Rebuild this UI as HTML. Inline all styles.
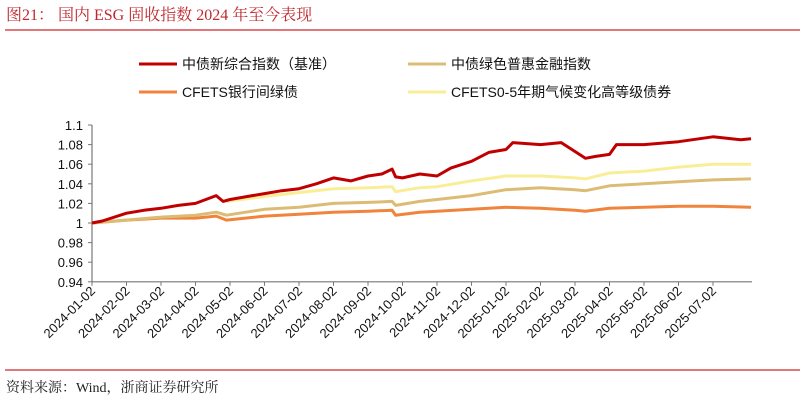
<!DOCTYPE html>
<html><head><meta charset="utf-8"><style>
body{margin:0;background:#fff;width:802px;height:402px;overflow:hidden}
svg{display:block}
</style></head><body>
<svg id="c" width="802" height="402" xmlns="http://www.w3.org/2000/svg">
<text x="6" y="20" font-family="Liberation Serif, Noto Serif CJK SC, serif" font-size="16" fill="#c0272d">图21：  国内 ESG 固收指数 2024 年至今表现</text>
<line x1="5" y1="30" x2="800" y2="30" stroke="#d0262b" stroke-width="1.2"/>
<line x1="5" y1="370" x2="800" y2="370" stroke="#d0262b" stroke-width="1.2"/>
<text x="6" y="392" font-family="Liberation Serif, Noto Serif CJK SC, serif" font-size="14" fill="#222">资料来源：Wind，浙商证券研究所</text>
<g id="legend" font-family="Liberation Sans, Noto Sans CJK SC, sans-serif" font-size="14" fill="#111"></g>
<g id="axes"></g>
<g id="plot"></g>
</svg>
<script>
const tickLabels=["2024-01-02","2024-02-02","2024-03-02","2024-04-02","2024-05-02","2024-06-02","2024-07-02","2024-08-02","2024-09-02","2024-10-02","2024-11-02","2024-12-02","2025-01-02","2025-02-02","2025-03-02","2025-04-02","2025-05-02","2025-06-02","2025-07-02"];
const yTicks=[0.94,0.96,0.98,1,1.02,1.04,1.06,1.08,1.1];
const seriesNames=["中债新综合指数（基准）","中债绿色普惠金融指数","CFETS银行间绿债","CFETS0-5年期气候变化高等级债券"];
const seriesColors=["#c00000","#dcbc74","#f0843c","#f9ee98"];
// x positions in months since 2024-01-02
const tRed=[0,0.3,1,1.5,2,2.5,3,3.6,3.8,4,4.5,5,5.5,6,6.5,7,7.5,8,8.4,8.7,8.8,9,9.5,10,10.4,11,11.5,12,12.2,13,13.6,14,14.3,14.6,15,15.2,16,17,18,18.8,19.1];
const vRed=[1.0,1.002,1.010,1.013,1.015,1.018,1.020,1.028,1.022,1.024,1.027,1.030,1.033,1.035,1.040,1.046,1.043,1.048,1.050,1.055,1.047,1.046,1.050,1.048,1.056,1.063,1.072,1.075,1.082,1.080,1.082,1.073,1.066,1.068,1.070,1.080,1.080,1.083,1.088,1.085,1.086];
const tTan=[0,1,2,3,3.6,3.9,5,6,7,8,8.7,8.8,9.5,10,11,12,13,14,14.3,15,16,17,18,19.1];
const vTan=[1.0,1.003,1.006,1.008,1.011,1.008,1.014,1.016,1.020,1.021,1.022,1.018,1.022,1.024,1.028,1.034,1.036,1.034,1.033,1.038,1.040,1.042,1.044,1.045];
const tOrange=[0,1,2,3,3.6,3.9,5,6,7,8,8.7,8.8,9.5,10,11,12,13,14,14.3,15,16,17,18,19.1];
const vOrange=[1.0,1.003,1.005,1.005,1.007,1.003,1.007,1.009,1.011,1.012,1.013,1.008,1.011,1.012,1.014,1.016,1.015,1.013,1.012,1.015,1.016,1.017,1.017,1.016];
const tYellow=[3.9,5,6,7,8,8.7,8.8,9.5,10,11,12,13,14,14.3,15,16,17,18,19.1];
const vYellow=[1.022,1.027,1.031,1.035,1.036,1.037,1.032,1.036,1.037,1.043,1.048,1.048,1.046,1.045,1.051,1.053,1.057,1.060,1.060];
const NS="http://www.w3.org/2000/svg";
const X0=92,DX=34.5,Y0=223,YS=980;
const xs=t=>X0+t*DX, ys=v=>Y0-(v-1)*YS;
function mk(tag,attrs,parent){const e=document.createElementNS(NS,tag);for(const k in attrs)e.setAttribute(k,attrs[k]);parent.appendChild(e);return e;}
const axes=document.getElementById('axes'),plot=document.getElementById('plot'),leg=document.getElementById('legend');
const ya=mk('line',{x1:X0,y1:ys(1.1),x2:X0,y2:ys(0.94),stroke:'#777','stroke-width':1.2},axes);


const xa=mk('line',{x1:X0,y1:ys(0.94),x2:752,y2:ys(0.94),stroke:'#777','stroke-width':1.2},axes);


yTicks.forEach(v=>{
 mk('line',{x1:X0-4,y1:ys(v),x2:X0,y2:ys(v),stroke:'#777'},axes);
 const t=mk('text',{x:X0-9,y:ys(v)+5,'text-anchor':'end','font-family':'Liberation Sans, sans-serif','font-size':13,fill:'#111'},axes);
 t.textContent=String(v);
 
 
});
tickLabels.forEach((l,i)=>{
 const x=xs(i),y=ys(0.94);
 mk('line',{x1:x,y1:y,x2:x,y2:y+4,stroke:'#777'},axes);
 const t=mk('text',{x:x+4,y:y+10,'text-anchor':'end','font-family':'Liberation Sans, sans-serif','font-size':13,fill:'#111',transform:`rotate(-45 ${x+4} ${y+10})`},axes);
 t.textContent=l;
 
 
});
const data=[[tRed,vRed],[tTan,vTan],[tOrange,vOrange],[tYellow,vYellow]];
const order=[2,1,3,0];
order.forEach(i=>{
 const [t,v]=data[i];
 const p=mk('polyline',{points:t.map((a,j)=>xs(a).toFixed(1)+','+ys(v[j]).toFixed(1)).join(' '),fill:'none',stroke:seriesColors[i],'stroke-width':3,'stroke-linejoin':'round'},plot);
 
 
});
const legPos=[[139,64],[408,64],[139,92],[408,92]];
seriesNames.forEach((n,i)=>{
 const [x,y]=legPos[i];
 const ln=mk('line',{x1:x,y1:y,x2:x+38,y2:y,stroke:seriesColors[i],'stroke-width':3},leg);
 
 
 const t=mk('text',{x:x+43,y:y+5},leg);
 t.textContent=n;
 
 
});
</script>
</body></html>
